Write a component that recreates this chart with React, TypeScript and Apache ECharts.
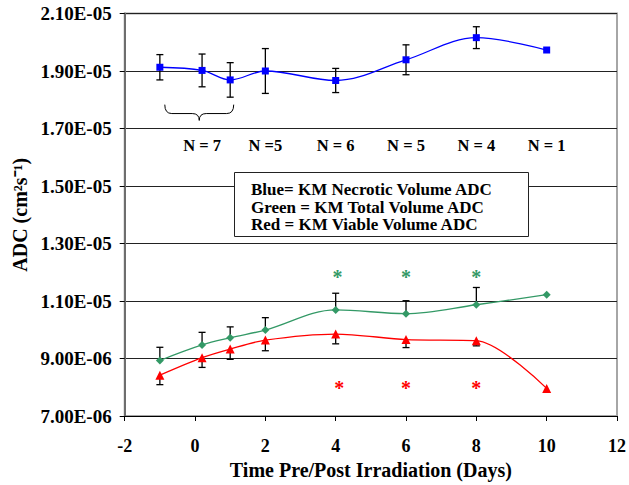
import React, { useEffect, useRef } from "react";
import * as echarts from "echarts";

// Time (days) of each measurement
const xDays = [-1, 0.2, 1, 2, 4, 6, 8, 10];
// ADC values in units of 1e-6 cm^2/s
const necroticADC = [19.13, 19.02, 18.69, 19.0, 18.67, 19.39, 20.16, 19.73];
const necroticErr = [0.44, 0.57, 0.6, 0.78, 0.42, 0.52, 0.38, 0];
const totalADC = [8.93, 9.47, 9.72, 9.99, 10.69, 10.56, 10.87, 11.22];
const totalErrUp = [0.46, 0.44, 0.38, 0.43, 0.58, 0.45, 0.6, 0];
const viableADC = [8.42, 9.03, 9.33, 9.64, 9.85, 9.66, 9.62, 7.96];
const viableErrDown = [0.33, 0.34, 0.36, 0.37, 0.34, 0.28, 0.18, 0];

// Sample-size annotations
const nLabelX = [0.2, 2, 4, 6, 8, 10];
const nLabelText = ["N = 7", "N =5", "N = 6", "N = 5", "N = 4", "N = 1"];
const nLabelY = 16.42;

// significance asterisks
const greenStarX = [4.05, 6, 8];
const greenStarY = 11.94;
const redStarX = [4.1, 6, 8];
const redStarY = 8.08;

// brace grouping the first three time points
const braceX = [-0.86, 1.1];
const braceY = [17.83, 17.52, 17.28]; // ends, middle line, tip

const legendLines = [
  "Blue= KM Necrotic Volume ADC",
  "Green = KM Total Volume ADC",
  "Red = KM Viable Volume ADC",
];

const yMin = 7;
const yMax = 21;
const yStep = 2;
const xMin = -2;
const xMax = 12;
const xStep = 2;

const SERIF = '"Liberation Serif", "Times New Roman", serif';
const BLUE = "#0000ff";
const GREEN = "#339966";
const RED = "#ff0000";

function fmtSci(v: number): string {
  const val = v * 1e-6;
  const s = val.toExponential(2); // e.g. 2.10e-5
  const [m, e] = s.split("e");
  const sign = e[0] === "-" ? "-" : "+";
  const digits = e.replace(/[+-]/, "").padStart(2, "0");
  return `${m}E${sign}${digits}`;
}

export default function App() {
  const ref = useRef<HTMLDivElement>(null);
  useEffect(() => {
    if (!ref.current) return;
    const chart = echarts.init(ref.current, undefined, { renderer: "svg" });

    const errData: any[] = [];
    xDays.forEach((x, i) => {
      if (necroticErr[i] > 0)
        errData.push([x, necroticADC[i] - necroticErr[i], necroticADC[i] + necroticErr[i], 1, 1]);
      if (totalErrUp[i] > 0)
        errData.push([x, totalADC[i], totalADC[i] + totalErrUp[i], 0, 1]);
      if (viableErrDown[i] > 0)
        errData.push([x, viableADC[i] - viableErrDown[i], viableADC[i], 1, 0]);
    });

    const textSeries = (
      name: string,
      data: any[],
      color: string,
      fontSize: number,
      dy: number
    ) => ({
      type: "custom",
      name,
      data,
      z: 5,
      silent: true,
      renderItem: (params: any, api: any) => {
        const p = api.coord([api.value(0), api.value(1)]);
        const idx = params.dataIndex;
        const txt = data[idx][2];
        return {
          type: "text",
          x: p[0],
          y: p[1] + dy,
          style: {
            text: txt,
            fill: color,
            fontFamily: SERIF,
            fontWeight: "bold",
            fontSize,
            align: "center",
            textAlign: "center",
            verticalAlign: "middle",
            textVerticalAlign: "middle",
          },
        };
      },
    });

    const option: any = {
      animation: false,
      backgroundColor: "#ffffff",
      title: {
        text: legendLines.join("\n"),
        left: 251,
        top: 181,
        padding: 0,
        z: 20,
        textStyle: {
          fontFamily: SERIF,
          fontWeight: "bold",
          fontSize: 17,
          lineHeight: 17.5,
          color: "#000",
        },
      },
      grid: {
        left: 124.7,
        right: 9.5,
        top: 13.5,
        bottom: 66.5,
        show: true,
        borderColor: "#a6a6a6",
        borderWidth: 2,
        backgroundColor: "transparent",
      },
      xAxis: {
        type: "value",
        min: xMin,
        max: xMax,
        interval: xStep,
        name: "Time Pre/Post Irradiation (Days)",
        nameLocation: "middle",
        nameGap: 44,
        nameTextStyle: {
          fontFamily: SERIF,
          fontWeight: "bold",
          fontSize: 20,
          color: "#000",
        },
        axisLine: { show: true, onZero: false, lineStyle: { color: "#000", width: 1 } },
        axisTick: { show: true, inside: false, length: 5, lineStyle: { color: "#000" } },
        axisLabel: {
          fontFamily: SERIF,
          fontWeight: "bold",
          fontSize: 18,
          color: "#000",
          margin: 21,
        },
        splitLine: { show: false },
      },
      yAxis: {
        type: "value",
        min: yMin,
        max: yMax,
        interval: yStep,
        name: "ADC (cm\u00B2s\u207B\u00B9)",
        nameLocation: "middle",
        nameRotate: 90,
        nameGap: 85,
        nameTextStyle: {
          fontFamily: SERIF,
          fontWeight: "bold",
          fontSize: 20,
          color: "#000",
        },
        axisLine: { show: true, onZero: false, lineStyle: { color: "#6e6e6e", width: 2 } },
        axisTick: { show: true, inside: false, length: 5, lineStyle: { color: "#000" } },
        axisLabel: {
          fontFamily: SERIF,
          fontWeight: "bold",
          fontSize: 19,
          color: "#000",
          margin: 13,
          formatter: (v: number) => fmtSci(v),
        },
        splitLine: { show: true, lineStyle: { color: "#222", width: 1 } },
      },
      graphic: [
        {
          type: "rect",
          left: 234,
          top: 172,
          z: 10,
          shape: { x: 0, y: 0, width: 294, height: 64 },
          style: { fill: "#ffffff", stroke: "#222", lineWidth: 1 },
        },
      ],
      series: [
        {
          type: "custom",
          name: "errorbars",
          data: errData,
          z: 1,
          silent: true,
          renderItem: (params: any, api: any) => {
            const x = api.value(0);
            const lo = api.coord([x, api.value(1)]);
            const hi = api.coord([x, api.value(2)]);
            const w = 3.5;
            const st = { stroke: "#000", lineWidth: 1.3 };
            const children: any[] = [
              { type: "line", shape: { x1: lo[0], y1: lo[1], x2: hi[0], y2: hi[1] }, style: st },
            ];
            if (api.value(3))
              children.push({
                type: "line",
                shape: { x1: lo[0] - w, y1: lo[1], x2: lo[0] + w, y2: lo[1] },
                style: st,
              });
            if (api.value(4))
              children.push({
                type: "line",
                shape: { x1: hi[0] - w, y1: hi[1], x2: hi[0] + w, y2: hi[1] },
                style: st,
              });
            return { type: "group", children };
          },
        },
        {
          type: "line",
          name: "Necrotic",
          data: xDays.map((x, i) => [x, necroticADC[i]]),
          smooth: 0.35,
          symbol: "rect",
          symbolSize: 7,
          z: 3,
          lineStyle: { color: BLUE, width: 1.3 },
          itemStyle: { color: BLUE },
        },
        {
          type: "line",
          name: "Total",
          data: xDays.map((x, i) => [x, totalADC[i]]),
          smooth: 0.35,
          symbol: "diamond",
          symbolSize: 8,
          z: 3,
          lineStyle: { color: GREEN, width: 1.3 },
          itemStyle: { color: GREEN },
        },
        {
          type: "line",
          name: "Viable",
          data: xDays.map((x, i) => [x, viableADC[i]]),
          smooth: 0.3,
          symbol: "triangle",
          symbolSize: 9,
          z: 3,
          lineStyle: { color: RED, width: 1.3 },
          itemStyle: { color: RED },
        },
        textSeries(
          "N labels",
          nLabelX.map((x, i) => [x, nLabelY, nLabelText[i]]),
          "#000",
          16.5,
          0
        ),
        textSeries(
          "green stars",
          greenStarX.map((x) => [x, greenStarY, "*"]),
          GREEN,
          20,
          3
        ),
        textSeries(
          "red stars",
          redStarX.map((x) => [x, redStarY, "*"]),
          RED,
          20,
          3
        ),
        {
          type: "custom",
          name: "brace",
          data: [[braceX[0], braceY[0]]],
          z: 4,
          silent: true,
          renderItem: (params: any, api: any) => {
            const xm = (braceX[0] + braceX[1]) / 2;
            const a = api.coord([braceX[0], braceY[0]]);
            const b = api.coord([braceX[1], braceY[0]]);
            const m = api.coord([xm, braceY[1]]);
            const t = api.coord([xm, braceY[2]]);
            const r = 7;
            const ym = m[1];
            const d =
              `M${a[0]},${a[1]} Q${a[0]},${ym} ${a[0] + r},${ym} ` +
              `L${m[0] - r},${ym} Q${m[0]},${ym} ${m[0]},${t[1]} ` +
              `Q${m[0]},${ym} ${m[0] + r},${ym} L${b[0] - r},${ym} ` +
              `Q${b[0]},${ym} ${b[0]},${b[1]}`;
            return {
              type: "path",
              shape: { pathData: d },
              style: { stroke: "#000", fill: "none", lineWidth: 1 },
            };
          },
        },
      ],
    };

    chart.setOption(option);
    return () => chart.dispose();
  }, []);

  return (
    <div
      ref={ref}
      style={{ position: "fixed", left: 0, top: 0, width: 629, height: 485, background: "#fff" }}
    />
  );
}
